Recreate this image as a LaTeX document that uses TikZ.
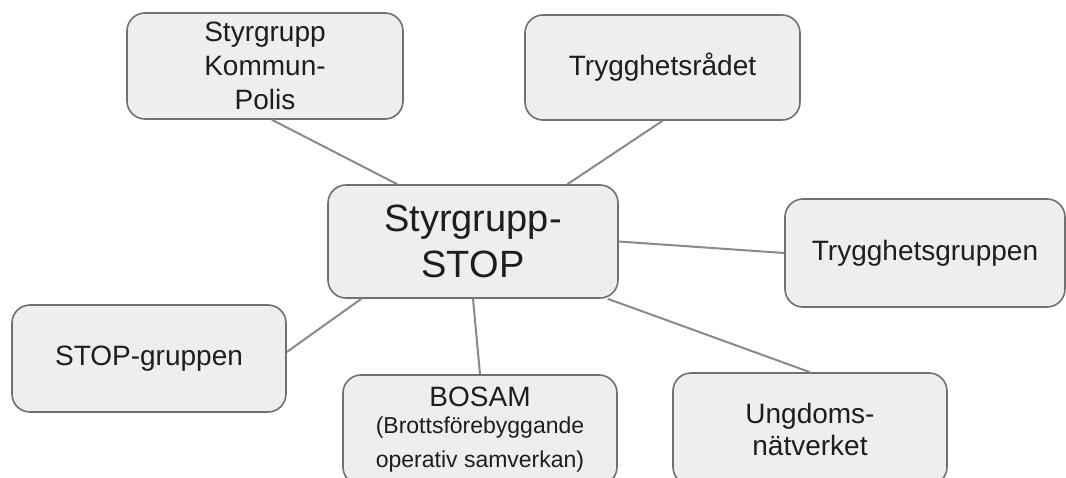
\documentclass[tikz,border=0pt]{standalone}
\usepackage{fontspec}
\setmainfont{Liberation Sans}
\usetikzlibrary{calc}
\definecolor{boxfill}{HTML}{EEEEEE}
\definecolor{boxline}{HTML}{707070}
\definecolor{conn}{HTML}{8A8A8A}
\definecolor{txt}{HTML}{1E1E1E}
\tikzset{
  box/.style={draw=boxline, fill=boxfill, line width=1.6pt, rounded corners=18pt,
    inner sep=0pt, align=center, text=txt, font=\fontsize{28}{34}\selectfont},
  link/.style={draw=conn, line width=2pt}
}
\begin{document}
\begin{tikzpicture}[x=1pt,y=-1pt]
\useasboundingbox (0,0) rectangle (1066,477);
\fill[white] (0,0) rectangle (1066,477);
% nodes
\node[box, minimum width=276pt, minimum height=106pt] (kp) at (265,66)
  {Styrgrupp\\Kommun-\\Polis};
\node[box, minimum width=275pt, minimum height=105pt] (tr) at (662.5,67.5)
  {Trygghetsrådet};
\node[box, minimum width=290pt, minimum height=113pt, font=\fontsize{38}{46}\selectfont] (st) at (473,241.5)
  {Styrgrupp-\\STOP};
\node[box, minimum width=280pt, minimum height=108pt] (tg) at (925,253)
  {Trygghetsgruppen};
\node[box, minimum width=274pt, minimum height=107pt] (sg) at (149,358.5)
  {STOP-gruppen};
\node[box, minimum width=274pt, minimum height=110pt, text width=270pt, align=flush center] (bo) at (480,430)
  {{\fontsize{28}{34}\selectfont BOSAM\par}\fontsize{23}{27}\selectfont (Brottsförebyggande\\operativ samverkan)};
\node[box, minimum width=274pt, minimum height=112pt, font=\fontsize{28}{32}\selectfont] (ug) at (810,429)
  {Ungdoms-\\nätverket};
% connectors
\draw[link] ($(kp.south west)!0.525!(kp.south east)$) -- ($(st.north west)!0.24!(st.north east)$);
\draw[link] (tr.south) -- ($(st.north west)!0.824!(st.north east)$);
\draw[link] (st.east) -- (tg.west);
\draw[link] ($(st.south west)!0.117!(st.south east)$) -- ($(sg.north east)!0.44!(sg.south east)$);
\draw[link] (st.south) -- (bo.north);
\draw[link] ($(st.south west)!0.962!(st.south east)$) -- (ug.north);
\end{tikzpicture}
\end{document}
